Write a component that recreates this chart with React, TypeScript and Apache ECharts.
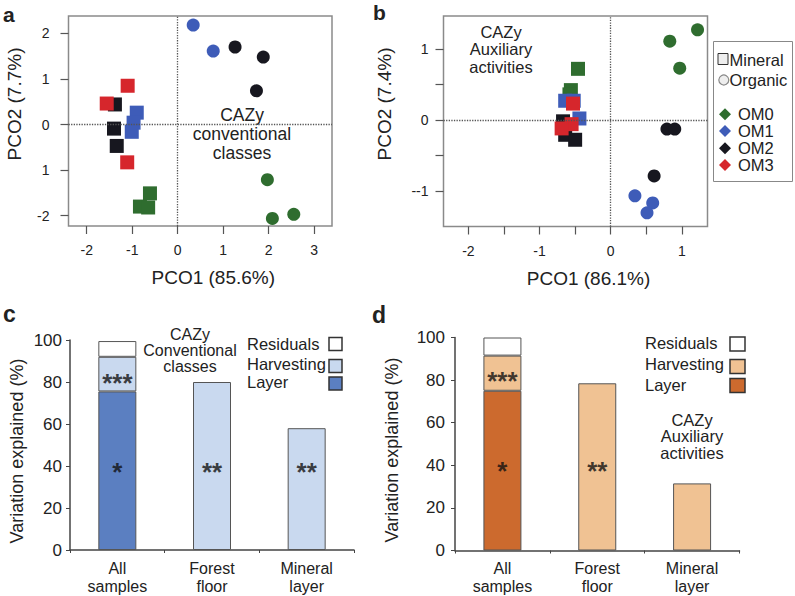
import React, { useEffect, useRef } from 'react';
import * as echarts from 'echarts';

const FONT = '"Liberation Sans", Arial, Helvetica, sans-serif';

// ---------- groups ----------
const groups = ['OM0', 'OM1', 'OM2', 'OM3'];
const groupColors = ['#2f6d2f', '#3e5cb8', '#17171f', '#d6262c'];

// ---------- panel a: CAZy conventional classes (PCO) ----------
const aMineralOM0 = [[-0.61, -1.51], [-0.83, -1.80], [-0.65, -1.82]];
const aMineralOM1 = [[-0.90, 0.26], [-0.97, 0.04], [-1.01, -0.16]];
const aMineralOM2 = [[-1.38, 0.44], [-1.40, -0.09], [-1.34, -0.47]];
const aMineralOM3 = [[-1.10, 0.85], [-1.56, 0.46], [-1.11, -0.83]];
const aOrganicOM0 = [[1.97, -1.21], [2.08, -2.06], [2.55, -1.97]];
const aOrganicOM1 = [[0.34, 2.18], [0.78, 1.61]];
const aOrganicOM2 = [[1.26, 1.70], [1.88, 1.48], [1.73, 0.74]];
const aOrganicOM3: number[][] = [];
const aXTicks = [-2, -1, 0, 1, 2, 3];
const aYTicks = [-2, -1, 0, 1, 2];
const aYTickLabels = ['-2', '1', '0', '1', '2'];

// ---------- panel b: CAZy auxiliary activities (PCO) ----------
const bMineralOM0 = [[-0.46, 0.72], [-0.56, 0.42], [-0.58, 0.36]];
const bMineralOM1 = [[-0.64, 0.27], [-0.52, 0.27], [-0.44, 0.02]];
const bMineralOM2 = [[-0.67, -0.02], [-0.64, -0.21], [-0.50, -0.28]];
const bMineralOM3 = [[-0.53, 0.23], [-0.55, -0.06], [-0.69, -0.12]];
const bOrganicOM0 = [[1.22, 1.27], [0.83, 1.11], [0.97, 0.73]];
const bOrganicOM1 = [[0.34, -1.07], [0.59, -1.17], [0.51, -1.31]];
const bOrganicOM2 = [[0.79, -0.13], [0.90, -0.13], [0.61, -0.79]];
const bOrganicOM3: number[][] = [];
const bXTicks = [-2, -1.5, -1, -0.5, 0, 0.5, 1];
const bXLabelValues = [-2, -1, 0, 1];
const bYTicks = [-1, -0.5, 0, 0.5, 1];
const bYLabelValues = [-1, 0, 1];
const bYTickLabels = ['--1', '0', '1'];

// ---------- panels c, d: variation explained ----------
const barCategories = ['All samples', 'Forest floor', 'Mineral layer'];
const cLayer = [75.5, '-', '-'];
const cHarvesting = [16.5, 80, 58];
const cResiduals = [7.5, '-', '-'];
const cStarCats = [0, 0, 1, 2];
const cStarValues = [40, 82.5, 40, 40];
const cStarLabels = ['*', '***', '**', '**'];

const dLayer = [75, '-', '-'];
const dHarvesting = [16.5, 78.5, 31.5];
const dResiduals = [8.5, '-', '-'];
const dStarCats = [0, 0, 1];
const dStarValues = [40, 82.5, 40];
const dStarLabels = ['*', '***', '**'];

const cColors = { layer: '#5b7fc1', harvesting: '#c9d9ef', residuals: '#ffffff' };
const dColors = { layer: '#cc6a2e', harvesting: '#f0c293', residuals: '#ffffff' };

function scatterSeries(panel: number, mineral: number[][][], organic: number[][][]) {
  const out: any[] = [];
  groups.forEach((g, i) => {
    out.push({
      name: g,
      type: 'scatter',
      xAxisIndex: panel,
      yAxisIndex: panel,
      symbol: 'rect',
      symbolSize: 14,
      itemStyle: { color: groupColors[i], opacity: 1 },
      data: mineral[i],
      z: 3,
    });
    out.push({
      name: g,
      type: 'scatter',
      xAxisIndex: panel,
      yAxisIndex: panel,
      symbol: 'circle',
      symbolSize: 13,
      itemStyle: { color: groupColors[i], opacity: 1 },
      data: organic[i],
      z: 3,
    });
  });
  out[0].markLine = {
    silent: true,
    symbol: ['none', 'none'],
    label: { show: false },
    lineStyle: { type: 'dotted', color: '#555', width: 1.3 },
    data: [{ xAxis: 0 }, { yAxis: 0 }],
  };
  return out;
}

function barSeries(panel: number, colors: any, layer: any[], harv: any[], resid: any[], starCats: number[], starVals: number[], starLabels: string[]) {
  const common = {
    type: 'bar',
    xAxisIndex: panel,
    yAxisIndex: panel,
    stack: 'p' + panel,
    barWidth: 38,
  };
  return [
    { ...common, name: 'Layer', data: layer, itemStyle: { color: colors.layer, borderColor: '#555', borderWidth: 1 } },
    { ...common, name: 'Harvesting', data: harv, itemStyle: { color: colors.harvesting, borderColor: '#555', borderWidth: 1 } },
    { ...common, name: 'Residuals', data: resid, itemStyle: { color: colors.residuals, borderColor: '#555', borderWidth: 1 } },
    {
      type: 'scatter',
      name: 'significance',
      xAxisIndex: panel,
      yAxisIndex: panel,
      symbolSize: 0.1,
      itemStyle: { color: 'transparent' },
      z: 5,
      data: starCats.map((c, i) => [c, starVals[i], starLabels[i]]),
      label: {
        show: true,
        position: 'inside',
        formatter: (p: any) => p.data[2],
        fontSize: 26,
        fontWeight: 'bold',
        fontFamily: FONT,
        color: '#111',
        offset: [0, 6],
      },
    },
  ];
}

const tickStyle = { color: '#555', width: 1.2 };
const labelStyle = { fontSize: 14, color: '#222', fontFamily: FONT };

function scatterXAxis(panel: number, min: number, max: number, ticks: number[], labels: number[], name: string) {
  return {
    type: 'value', gridIndex: panel, min, max,
    splitLine: { show: false },
    axisLine: { show: false, onZero: false },
    axisTick: { show: true, customValues: ticks, length: 8, lineStyle: tickStyle },
    axisLabel: { ...labelStyle, customValues: labels, margin: 17 },
    name, nameLocation: 'middle', nameGap: 42,
    nameTextStyle: { fontSize: 19, color: '#222', fontFamily: FONT, padding: [0, 0, 0, 26] },
  };
}

function scatterYAxis(panel: number, min: number, max: number, ticks: number[], labels: number[], texts: string[], margin: number) {
  return {
    type: 'value', gridIndex: panel, min, max,
    splitLine: { show: false },
    axisLine: { show: false, onZero: false },
    axisTick: { show: true, customValues: ticks, length: 8, lineStyle: tickStyle },
    axisLabel: {
      ...labelStyle, customValues: labels, margin,
      formatter: (v: number) => texts[labels.indexOf(v)] ?? String(v),
    },
  };
}

function barXAxis(panel: number) {
  return {
    type: 'category', gridIndex: panel, data: barCategories,
    axisLine: { show: true, lineStyle: { color: '#444', width: 1.5 } },
    axisTick: { show: true, length: 3, lineStyle: { color: '#444' } },
    axisLabel: {
      interval: 0, margin: 9, fontSize: 16, lineHeight: 18, color: '#222', fontFamily: FONT,
      formatter: (v: string) => v.replace(' ', '\n'),
    },
  };
}

function barYAxis(panel: number, margin: number, gap: number) {
  return {
    type: 'value', gridIndex: panel, min: 0, max: 100, interval: 20,
    splitLine: { show: false },
    axisLine: { show: true, lineStyle: { color: '#444', width: 1.5 } },
    axisTick: { show: true, length: 4, lineStyle: { color: '#444' } },
    axisLabel: { fontSize: 17, color: '#222', fontFamily: FONT, margin },
    name: 'Variation explained (%)', nameLocation: 'middle', nameGap: gap,
    nameTextStyle: { fontSize: 18, color: '#222', fontFamily: FONT, padding: [0, 12, 0, 0] },
  };
}

function txt(text: string, x: number, y: number, fontSize: number, opts: any = {}) {
  return {
    type: 'text', x, y, silent: true,
    rotation: opts.rotation ?? 0,
    style: {
      text, fontSize, fontFamily: FONT, fill: '#222',
      align: opts.align ?? 'left', verticalAlign: 'middle',
      fontWeight: opts.bold ? 'bold' : 'normal',
      lineHeight: opts.lineHeight,
    },
  };
}

function diamond(cx: number, cy: number, color: string) {
  const r = 6;
  return {
    type: 'polygon', silent: true,
    shape: { points: [[cx, cy - r], [cx + r, cy], [cx, cy + r], [cx - r, cy]] },
    style: { fill: color },
  };
}

export default function App() {
  const ref = useRef<HTMLDivElement>(null);
  useEffect(() => {
    if (!ref.current) return;
    const chart = echarts.init(ref.current, undefined, { renderer: 'svg' });
    const gridBox = { show: true, borderColor: '#8a8a8a', borderWidth: 1.5, backgroundColor: 'transparent' };
    const option: any = {
      animation: false,
      backgroundColor: '#fff',
      textStyle: { fontFamily: FONT },
      grid: [
        { ...gridBox, left: 68.5, top: 16, width: 263.5, height: 210 },
        { ...gridBox, left: 443.5, top: 16, width: 264, height: 210.5 },
        { left: 70, top: 340, width: 284, height: 210 },
        { left: 455, top: 337.5, width: 284.5, height: 213 },
      ],
      xAxis: [
        scatterXAxis(0, -2.4, 3.39, aXTicks, aXTicks, 'PCO1 (85.6%)'),
        scatterXAxis(1, -2.35, 1.36, bXTicks, bXLabelValues, 'PCO1 (86.1%)'),
        barXAxis(2),
        barXAxis(3),
      ],
      yAxis: [
        scatterYAxis(0, -2.226, 2.38, aYTicks, aYTicks, aYTickLabels, 19),
        scatterYAxis(1, -1.503, 1.465, bYTicks, bYLabelValues, bYTickLabels, 15),
        barYAxis(2, 8, 44),
        barYAxis(3, 10, 54),
      ],
      series: [
        ...scatterSeries(0, [aMineralOM0, aMineralOM1, aMineralOM2, aMineralOM3], [aOrganicOM0, aOrganicOM1, aOrganicOM2, aOrganicOM3]),
        ...scatterSeries(1, [bMineralOM0, bMineralOM1, bMineralOM2, bMineralOM3], [bOrganicOM0, bOrganicOM1, bOrganicOM2, bOrganicOM3]),
        ...barSeries(2, cColors, cLayer, cHarvesting, cResiduals, cStarCats, cStarValues, cStarLabels),
        ...barSeries(3, dColors, dLayer, dHarvesting, dResiduals, dStarCats, dStarValues, dStarLabels),
      ],
      graphic: [
        // panel letters
        txt('a', 3, 14.5, 21, { bold: true }),
        txt('b', 373, 12.7, 21, { bold: true }),
        txt('c', 3, 314, 23, { bold: true }),
        txt('d', 372, 314.5, 23, { bold: true }),
        // y-axis titles of the PCO panels
        txt('PCO2 (7.7%)', 14, 104, 19, { align: 'center', rotation: Math.PI / 2 }),
        txt('PCO2 (7.4%)', 384, 104, 19, { align: 'center', rotation: Math.PI / 2 }),
        // in-panel titles
        txt('CAZy\nconventional\nclasses', 242, 133.5, 17.5, { align: 'center', lineHeight: 19 }),
        txt('CAZy\nAuxiliary\nactivities', 501, 49, 16.5, { align: 'center', lineHeight: 17.5 }),
        txt('CAZy\nConventional\nclasses', 190, 350, 16, { align: 'center', lineHeight: 16 }),
        txt('CAZy\nAuxiliary\nactivities', 692, 436, 16.5, { align: 'center', lineHeight: 16.5 }),
        // legend panel b
        { type: 'rect', silent: true, shape: { x: 713.5, y: 41.5, width: 79, height: 140 }, style: { fill: '#fff', stroke: '#888', lineWidth: 1 } },
        { type: 'rect', silent: true, shape: { x: 718, y: 53.5, width: 10, height: 11 }, style: { fill: '#eee', stroke: '#333', lineWidth: 1 } },
        txt('Mineral', 729.5, 59.5, 16.5),
        { type: 'circle', silent: true, shape: { cx: 723.8, cy: 80, r: 5 }, style: { fill: '#eee', stroke: '#888', lineWidth: 1.2 } },
        txt('Organic', 729.5, 80, 16.5),
        ...groups.flatMap((g, i) => {
          const cy = [114.3, 130.9, 148.3, 165][i];
          return [diamond(725, cy, groupColors[i]), txt(g, 738, cy, 16.5)];
        }),
        // legend panel c
        txt('Residuals', 247, 343.5, 16.5),
        txt('Harvesting', 247, 363.5, 16.5),
        txt('Layer', 247, 382, 16.5),
        { type: 'rect', silent: true, shape: { x: 329, y: 337.5, width: 13, height: 13 }, style: { fill: cColors.residuals, stroke: '#333', lineWidth: 1.5 } },
        { type: 'rect', silent: true, shape: { x: 329, y: 359.5, width: 13, height: 13 }, style: { fill: cColors.harvesting, stroke: '#333', lineWidth: 1.5 } },
        { type: 'rect', silent: true, shape: { x: 329, y: 377, width: 13, height: 13 }, style: { fill: cColors.layer, stroke: '#333', lineWidth: 1.5 } },
        // legend panel d
        txt('Residuals', 645, 343.3, 16.5),
        txt('Harvesting', 645, 364, 16.5),
        txt('Layer', 645, 385, 16.5),
        { type: 'rect', silent: true, shape: { x: 730, y: 337, width: 15, height: 14 }, style: { fill: dColors.residuals, stroke: '#333', lineWidth: 1.5 } },
        { type: 'rect', silent: true, shape: { x: 730, y: 359.5, width: 15, height: 14 }, style: { fill: dColors.harvesting, stroke: '#333', lineWidth: 1.5 } },
        { type: 'rect', silent: true, shape: { x: 730, y: 378.5, width: 15, height: 14 }, style: { fill: dColors.layer, stroke: '#333', lineWidth: 1.5 } },
      ],
    };
    chart.setOption(option);
    return () => chart.dispose();
  }, []);
  return <div ref={ref} style={{ position: 'fixed', left: 0, top: 0, width: 795, height: 596 }} />;
}
